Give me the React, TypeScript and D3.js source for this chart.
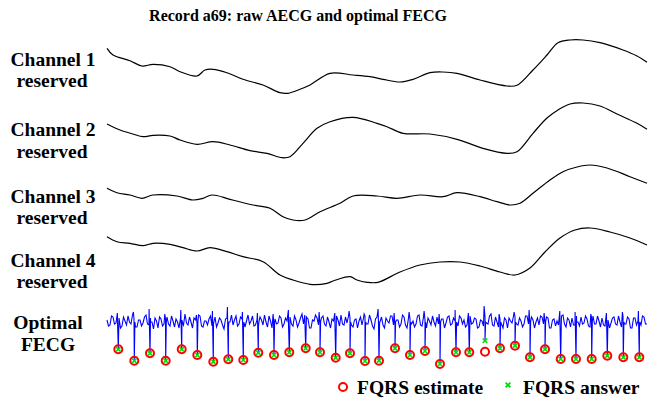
import React from "react";
import * as d3 from "d3";

// ---- data (time axis in samples, 0..540) ----
const ch1T = [0, 6, 23, 35, 46, 63, 73, 90, 98, 106, 120, 136, 156, 173, 181, 193, 203, 223, 246, 263, 276, 293, 306, 323, 336, 350, 373, 400, 410, 426, 440, 451, 463, 476, 493, 516, 530, 540];
const ch1V = [17.7, 11, 5.3, 0, 1.7, -0.7, -5.7, -10, -4, -3.3, -6.7, -13.3, -19, -26.7, -27.3, -23.3, -19, -7.3, -9, -10.7, -13.3, -16, -13.3, -6.7, -6, -7.3, -14, -20, -19.3, -4, 11, 23.3, 26, 26, 23.3, 16, 10, 3.7];

const ch2T = [0, 13, 26, 36, 46, 63, 73, 90, 106, 123, 143, 160, 175, 183, 196, 210, 223, 246, 270, 280, 296, 323, 350, 376, 400, 410, 426, 440, 451, 463, 476, 493, 510, 530, 540];
const ch2V = [11, 5, 1, -1.7, -0.3, -1, -5, -9.3, -6.7, -10, -15.7, -18.3, -22.7, -21.7, -8.3, 6.7, 13.3, 17.7, 11.7, 8.3, 1.7, 1, -4.3, -13.3, -18.3, -16.7, 1.7, 17, 25, 31, 32, 29, 21, 11.7, 5.7];

const ch3T = [0, 10, 23, 35, 46, 70, 86, 96, 105, 123, 146, 163, 176, 186, 198, 213, 233, 246, 270, 290, 313, 336, 350, 373, 390, 403, 413, 426, 443, 456, 470, 483, 500, 523, 540];
const ch3V = [11.7, 7.3, 5, 1.7, 5, 4, 0, 1.7, 5, 0.7, -5, -8.3, -16.7, -20, -20, -11.7, -3.3, 4, 4, 1.7, 5, 3.3, 7.3, 3.3, -1.7, -5, -3.3, 6.7, 20, 28.3, 33, 35, 32, 23.3, 16.7];

const ch4T = [0, 10, 23, 36, 46, 63, 76, 90, 103, 120, 136, 156, 173, 186, 203, 220, 226, 243, 250, 260, 271, 293, 313, 333, 353, 373, 393, 408, 423, 438, 453, 468, 483, 503, 523, 540];
const ch4V = [23.3, 18.3, 16.7, 14.3, 16.7, 15.7, 12.3, 9, 12.3, 8.3, 3.3, -1.7, -15, -20, -24.3, -23.3, -21, -16.7, -20, -22.3, -22.3, -12, -5, -2, -2, -6, -12, -15, -8, 8, 22, 30, 32, 28, 22, 15];

// FECG background samples, two interleaved sets (every 3 samples, offset 0 and 1.5)
const fecgNoiseA = [
  2, -3, 5, -1, 4, -4, 1, 6, -2, 3, -5, 2, -1, 7, -3, 0, 4, -6, 3, -2,
  5, -4, 1, 3, -6, 2, 8, -3, 0, 4, -2, 6, -5, 1, 3, -4, 5, -1, 2, -7,
  4, 0, -3, 6, -2, 3, -5, 7, 1, -4, 2, 5, -3, 0, 6, -6, 3, -1, 4, -2,
  1, 5, -4, 2, -1, 8, -3, 3, -6, 1, 4, -2, 6, -4, 0, 3, -5, 2, 7, -3,
  -1, 4, -5, 3, 1, -3, 6, -2, 2, -7, 5, 0, -3, 4, -1, 6, -4, 2, -2, 5,
  -6, 3, 1, -2, 7, -4, 2, 4, -3, 0, 5, -5, 3, -1, 6, -2, 1, -4, 4, 2,
  -3, 6, -1, 3, -5, 1, 5, -2, 8, -4, 0, 3, -6, 2, 4, -1, 5, -3, 1, -2,
  6, -4, 2, 0, -3, 5, -1, 4, -6, 3, 1, -2, 7, -5, 2, 4, -3, 0, 5, -1,
  3, -5, 6, -2, 1, 4, -4, 2, -1, 5, -3, 0, 6, -2, 3, -6, 4, 1, -3, 5,
  -2,
];
const fecgNoiseB = [
  -4, 6, -2, 1, -6, 5, -3, 0, 7, -5, 2, -4, 5, -2, 4, -7, 1, 5, -4, 3,
  -2, 6, -5, 0, 4, -3, -1, 5, -6, 2, 7, -4, 1, -3, 6, -2, -5, 4, -3, 3,
  -5, 7, 2, -4, 5, -6, 1, -2, 6, -3, -4, 2, 7, -5, 1, 3, -2, 6, -5, 4,
  -3, -2, 6, -5, 4, -2, 5, -6, 2, 7, -3, 4, -2, 5, -6, 1, 6, -4, -2, 5,
  6, -3, 2, -6, 5, 4, -2, 7, -4, 3, -2, 5, -6, 1, 6, -3, 2, -5, 7, -3,
  4, -2, -5, 6, -3, 5, -6, 1, 6, -4, -2, 3, -6, 5, -3, 4, -5, 6, -2, -5,
  5, -2, 4, -6, 2, -4, -1, 6, -3, 5, -5, -2, 4, -6, 1, 6, -2, 4, -5, 6,
  -2, 5, -6, 4, 6, -2, 5, -6, 2, -4, -3, 6, -2, 4, -5, -3, 6, -4, -2, 6,
  -4, 5, -2, 6, -5, -3, 5, -6, 4, -2, 6, -5, -2, 5, -6, 4, -3, -4, 6, -2,
  4,
];
const fecgNoiseStep = 3;

// FQRS estimates (time, value) and answers
const estT = [11.3, 27.3, 43, 58.7, 74.7, 90.3, 106.3, 121.3, 136.3, 151.3, 167, 182.3, 198.7, 213, 228.7, 243, 258, 272, 288, 303, 318, 333, 349, 362.3, 378, 393, 408, 423, 438, 453.7, 469, 484.7, 500.3, 516.3, 532.3];
const estV = [-27.3, -38.7, -31.3, -38.7, -27.3, -33, -39.7, -37.3, -38, -30.7, -33, -30.3, -26.3, -30.3, -35.7, -31.3, -39, -38.7, -26.3, -33, -29, -42, -30.3, -30.3, -29.7, -26.3, -23.7, -35.3, -27.3, -37, -37, -37, -33.7, -35.3, -35.3];
const ansV = [-27.3, -38.7, -31.3, -38.7, -27.3, -33, -39.7, -37.3, -38, -30.7, -33, -30.3, -26.3, -30.3, -35.7, -31.3, -39, -38.7, -26.3, -33, -29, -42, -30.3, -30.3, -18.7, -26.3, -23.7, -35.3, -27.3, -37, -37, -37, -33.7, -35.3, -35.3];
const upV = [9, 10, 13, 8, 12, 7, 11, 15, 10, 9, 8, 12, 7, 10, 9, 11, 8, 13, 9, 10, 11, 8, 12, 9, 16, 8, 10, 12, 9, 11, 10, 8, 9, 10, 11];

const channelLabels = ["Channel 1", "Channel 2", "Channel 3", "Channel 4"];
const channelT = [ch1T, ch2T, ch3T, ch4T];
const channelV = [ch1V, ch2V, ch3V, ch4V];

const W = 648;
const H = 402;
const FONT = "'Liberation Serif', 'Times New Roman', serif";

export default function App() {
  const x = d3.scaleLinear().domain([0, 540]).range([107, 647]);
  const centers = [66, 135, 200, 260];
  const fecgCenter = 322;

  const chLine = (cy: number) => {
    const y = d3.scaleLinear().domain([-30, 30]).range([cy + 30, cy - 30]);
    return d3
      .line<[number, number]>()
      .x((d) => x(d[0]))
      .y((d) => y(d[1]))
      .curve(d3.curveCatmullRom);
  };

  const yF = d3.scaleLinear().domain([-30, 30]).range([fecgCenter + 30, fecgCenter - 30]);

  // build FECG trace
  const pts: [number, number][] = [
    ...fecgNoiseA.map((v, i) => [i * fecgNoiseStep, v] as [number, number]),
    ...fecgNoiseB.map((v, i) => [i * fecgNoiseStep + 1.5, v] as [number, number]),
  ].filter((d) => d[0] <= 540);
  estT.forEach((t, i) => {
    pts.push([t - 0.9, upV[i]]);
    pts.push([t, ansV[i]]);
    pts.push([t + 0.6, 0]);
  });
  pts.sort((a, b) => a[0] - b[0]);
  const fLine = d3
    .line<[number, number]>()
    .x((d) => x(d[0]))
    .y((d) => yF(d[1]));

  const timesPath = (cx: number, cy: number, s: number) =>
    `M${cx - s},${cy - s}L${cx + s},${cy + s}M${cx - s},${cy + s}L${cx + s},${cy - s}`;

  const labelY = [
    [66, 87],
    [136, 158],
    [203, 224],
    [267, 288],
  ];

  return (
    <svg width={W} height={H} style={{ display: "block", position: "absolute", left: 0, top: 0, background: "#fff" }}>
      <rect width={W} height={H} fill="#fff" />
      <text x={298} y={21} textAnchor="middle" fontFamily={FONT} fontWeight="bold" fontSize={16} fill="#000">
        Record a69: raw AECG and optimal FECG
      </text>
      {channelLabels.map((lab, i) => (
        <g key={lab} fontFamily={FONT} fontWeight="bold" fontSize={19.5} fill="#000" textAnchor="middle">
          <text x={53} y={labelY[i][0]}>{lab}</text>
          <text x={52} y={labelY[i][1]}>reserved</text>
        </g>
      ))}
      <g fontFamily={FONT} fontWeight="bold" fontSize={19.5} fill="#000" textAnchor="middle">
        <text x={48} y={329}>Optimal</text>
        <text x={48} y={351}>FECG</text>
      </g>
      {channelT.map((ts, i) => (
        <path
          key={i}
          d={chLine(centers[i])(ts.map((t, j) => [t, channelV[i][j]] as [number, number])) || ""}
          fill="none"
          stroke="#000"
          strokeWidth={1.2}
        />
      ))}
      <path d={fLine(pts) || ""} fill="none" stroke="#0000ff" strokeWidth={1.1} />
      {estT.map((t, i) => (
        <circle key={"e" + i} cx={x(t)} cy={yF(estV[i])} r={4} fill="none" stroke="#ff0000" strokeWidth={2} />
      ))}
      {estT.map((t, i) => (
        <path key={"a" + i} d={timesPath(x(t), yF(ansV[i]), 2.2)} stroke="#00e000" strokeWidth={1.6} fill="none" />
      ))}
      <circle cx={343} cy={387} r={4} fill="none" stroke="#ff0000" strokeWidth={2} />
      <text x={357} y={394} fontFamily={FONT} fontWeight="bold" fontSize={19.5} fill="#000">FQRS estimate</text>
      <path d={timesPath(508, 385, 2.4)} stroke="#00e000" strokeWidth={1.8} fill="none" />
      <text x={523} y={394} fontFamily={FONT} fontWeight="bold" fontSize={19.5} fill="#000">FQRS answer</text>
    </svg>
  );
}
